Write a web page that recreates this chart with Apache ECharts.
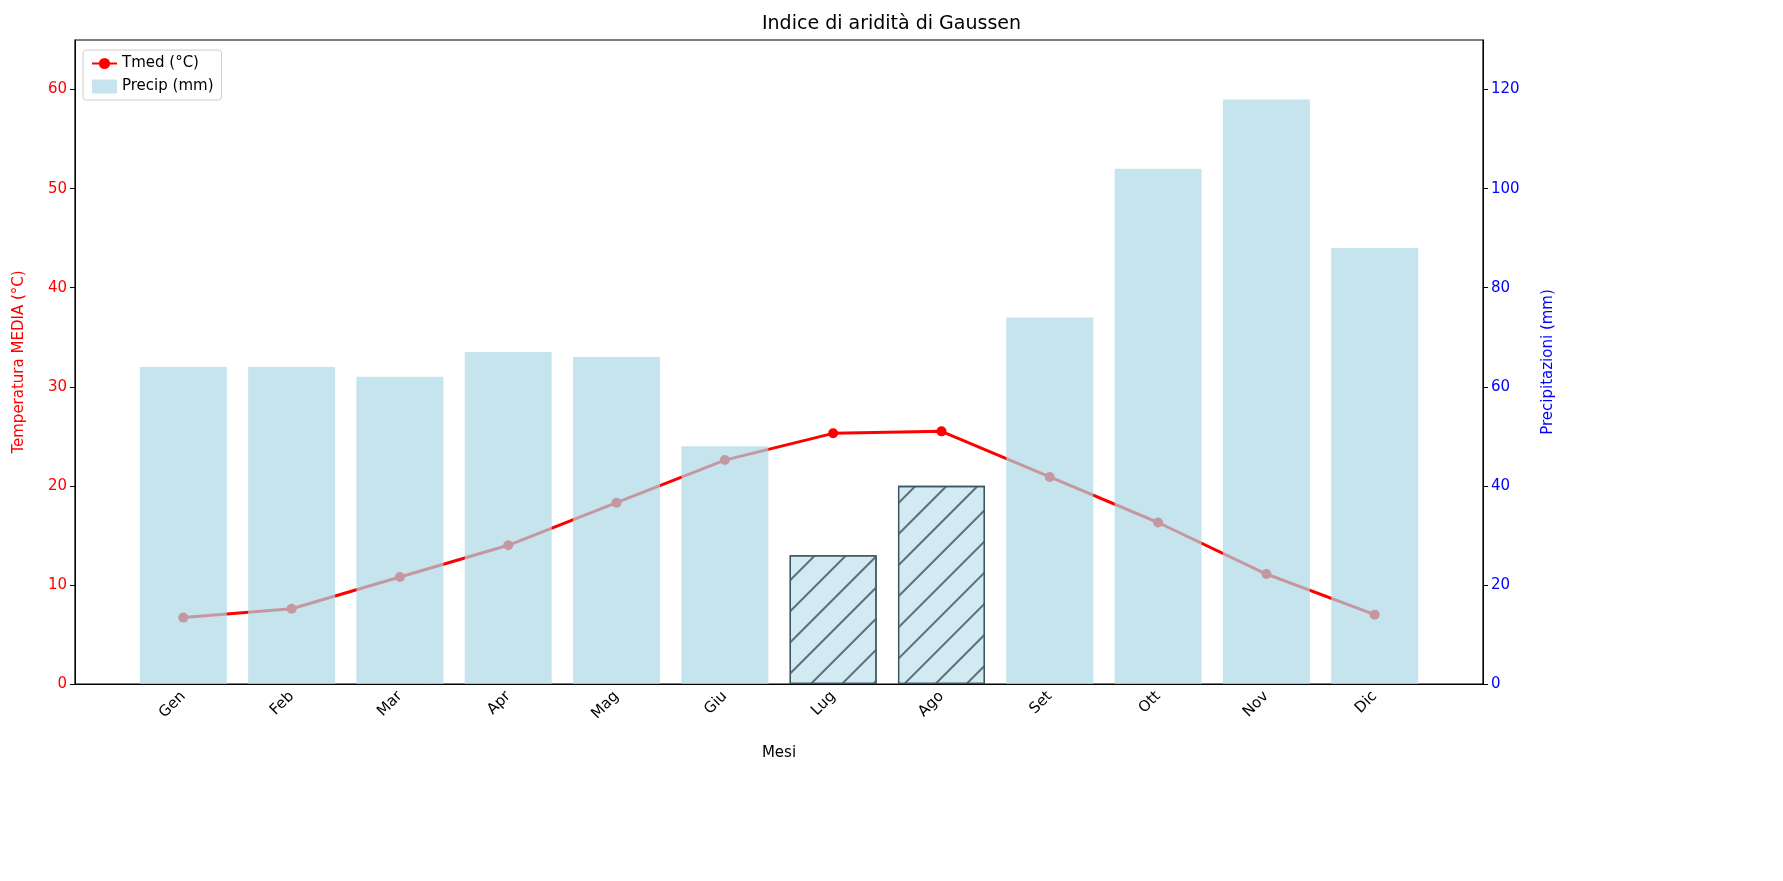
<!DOCTYPE html>
<html><head><meta charset="utf-8">
<script src="https://cdn.jsdelivr.net/npm/echarts@6/dist/echarts.min.js"></script>
<style>html,body{margin:0;background:#fff}#c{width:1783px;height:881px}</style>
</head><body><div id="c"></div>
<script>
const months = ['Gen','Feb','Mar','Apr','Mag','Giu','Lug','Ago','Set','Ott','Nov','Dic'];
const tmed = [6.7, 7.6, 10.8, 14.0, 18.3, 22.6, 25.3, 25.5, 20.9, 16.3, 11.1, 7.0];
const precip = [64, 64, 62, 67, 66, 48, 26, 40, 74, 104, 118, 88];
const dryMonths = [6, 7];

let chart = echarts.init(document.getElementById('c'));
const font = 'DejaVu Sans';

const barData = precip.map(function (v, i) {
    const item = { value: [i, v] };
    if (dryMonths.indexOf(i) >= 0) {
        item.itemStyle = {
            color: 'rgba(173,216,230,0.55)',
            borderColor: '#3f5560', borderWidth: 1.3,
            decal: { symbol: 'rect', symbolSize: 1, color: '#5a6f78',
                     dashArrayX: [1, 0], dashArrayY: [1.5, 20], rotation: -Math.PI / 4 }
        };
    }
    return item;
});

const option = {
    animation: false,
    textStyle: { fontFamily: font },
    title: { text: 'Indice di aridità di Gaussen', left: 'center', top: 10,
             textStyle: { fontFamily: font, fontWeight: 'normal', fontSize: 19, color: '#000' } },
    grid: { left: 75, top: 40, width: 1408, height: 644,
            show: true, borderColor: '#000', borderWidth: 1.2 },
    legend: {
        left: 83, top: 50, orient: 'vertical', itemGap: 8,
        backgroundColor: '#fff', borderColor: '#ccc', borderWidth: 1, borderRadius: 3,
        padding: [6, 8], textStyle: { fontSize: 15, color: '#000' },
        data: [{ name: 'Tmed (°C)' }, { name: 'Precip (mm)', icon: 'rect' }]
    },
    xAxis: {
        type: 'value', min: -1, max: 12, interval: 1,
        name: 'Mesi', nameLocation: 'middle', nameGap: 62,
        nameTextStyle: { fontSize: 15, color: '#000' },
        axisLine: { onZero: false, lineStyle: { color: '#000' } },
        axisTick: { show: false }, splitLine: { show: false },
        axisLabel: { rotate: 45, fontSize: 15, color: '#000', margin: 10,
                     formatter: function (v) { const i = Math.round(v); return i >= 0 && i < 12 ? months[i] : ''; } }
    },
    yAxis: [{
        type: 'value', min: 0, max: 65, interval: 10,
        name: 'Temperatura MEDIA (°C)', nameLocation: 'middle', nameGap: 48,
        nameTextStyle: { color: 'red', fontSize: 15 },
        axisLine: { show: true, onZero: false, lineStyle: { color: '#000' } },
        axisTick: { show: true }, splitLine: { show: false },
        axisLabel: { color: 'red', fontSize: 15, showMaxLabel: false }
    }, {
        type: 'value', min: 0, max: 130, interval: 20,
        name: 'Precipitazioni (mm)', nameLocation: 'middle', nameGap: 58, nameRotate: 90,
        nameTextStyle: { color: 'blue', fontSize: 15 },
        axisLine: { show: true, onZero: false, lineStyle: { color: '#000' } },
        axisTick: { show: true }, splitLine: { show: false },
        axisLabel: { color: 'blue', fontSize: 15, showMaxLabel: false }
    }],
    series: [{
        name: 'Tmed (°C)', type: 'line', yAxisIndex: 0, z: 2,
        data: tmed.map(function (v, i) { return [i, v]; }),
        symbol: 'circle', symbolSize: 10,
        lineStyle: { color: 'red', width: 3 }, itemStyle: { color: 'red' }
    }, {
        name: 'Precip (mm)', type: 'bar', yAxisIndex: 1, z: 3,
        barWidth: 87, data: barData,
        itemStyle: { color: 'rgba(173,216,230,0.7)' }
    }]
};

chart.setOption(option);
</script></body></html>
